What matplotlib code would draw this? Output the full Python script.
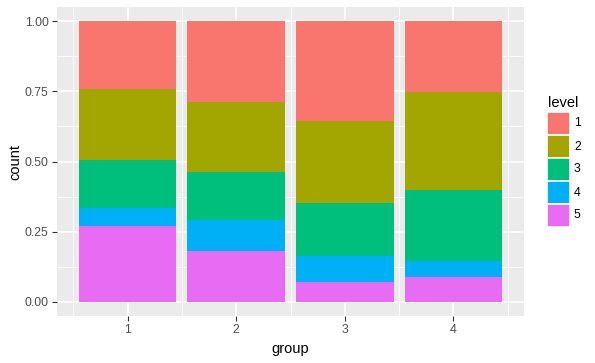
import matplotlib
matplotlib.use("Agg")
import matplotlib.pyplot as plt
from matplotlib.patches import Rectangle
import numpy as np

plt.rcParams['font.family'] = ['Liberation Sans', 'DejaVu Sans']

groups = ["1", "2", "3", "4"]
levels = ["1", "2", "3", "4", "5"]
# proportion of each level within each group
prop = {
    "1": [0.242, 0.288, 0.356, 0.252],
    "2": [0.253, 0.249, 0.292, 0.349],
    "3": [0.169, 0.171, 0.188, 0.253],
    "4": [0.066, 0.111, 0.093, 0.057],
    "5": [0.270, 0.181, 0.071, 0.089],
}
colors = ["#F8766D", "#A3A500", "#00BF7D", "#00B0F6", "#E76BF3"]
yticks = [0.0, 0.25, 0.5, 0.75, 1.0]
ytick_labels = ["0.00", "0.25", "0.50", "0.75", "1.00"]

W, H = 595, 363
fig = plt.figure(figsize=(W / 100, H / 100), dpi=100)
ax = fig.add_axes([57 / W, 1 - 316 / H, (524 - 57) / W, (316 - 7) / H])
ax.set_facecolor("#EBEBEB")

x = np.arange(1, len(groups) + 1)
bottom = np.zeros(len(groups))
# stack from level 5 at bottom up to level 1 at top
for lv, col in zip(reversed(levels), reversed(colors)):
    vals = np.array(prop[lv])
    ax.bar(x, vals, width=0.9, bottom=bottom, color=col, linewidth=0, zorder=3)
    bottom += vals

ax.set_xlim(0.35, 4.65)
ax.set_ylim(-0.05, 1.05)
ax.set_xticks(x)
ax.set_xticklabels(groups)
ax.set_yticks(yticks)
ax.set_yticklabels(ytick_labels)
ax.set_xticks(np.arange(0.5, 5.0, 1.0), minor=True)
ax.set_yticks([0.125, 0.375, 0.625, 0.875], minor=True)
ax.grid(which="major", color="white", linewidth=1.1, zorder=1)
ax.grid(which="minor", color="white", linewidth=0.55, zorder=1)
ax.set_axisbelow(True)
for s in ax.spines.values():
    s.set_visible(False)
ax.tick_params(which="major", length=3.5, width=0.8, color="#333333",
               labelsize=8.8, labelcolor="#4D4D4D", pad=2.5)
ax.tick_params(which="minor", length=0)

ax.set_xlabel("group", fontsize=10.5, color="black", labelpad=4)
ax.set_ylabel("count", fontsize=10.5, color="black", labelpad=2)

# legend
fig.text(548 / W, 1 - 103 / H, "level", fontsize=10.5, ha="left", va="center")
for i, (lv, col) in enumerate(zip(levels, colors)):
    top = 112 + i * 23
    fig.add_artist(Rectangle((547 / W, 1 - (top + 23) / H), 23 / W, 23 / H,
                             transform=fig.transFigure, facecolor=col,
                             edgecolor="white", linewidth=1.2))
    fig.text(574 / W, 1 - (top + 11.5) / H, lv, fontsize=8.8, ha="left", va="center")

fig.savefig("out.png", dpi=100)
